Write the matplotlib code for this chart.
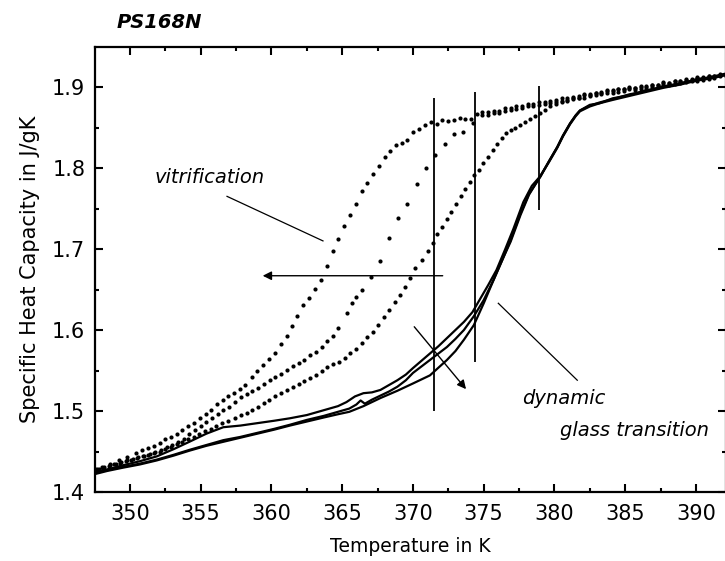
import matplotlib.pyplot as plt
from matplotlib.ticker import MultipleLocator

# cooling runs, plotted as dots (three cooling rates)
T_cool_a = [347.55, 348.0, 348.6, 349.2, 349.8, 350.4, 350.87, 351.3, 351.7, 352.12,
            352.5, 352.9, 353.3, 353.68, 354.08, 354.5, 354.95, 355.35, 355.75, 356.17,
            356.55, 356.93, 357.37, 357.76, 358.15, 358.6, 359.0, 359.42, 359.85, 360.25,
            360.65, 361.08, 361.47, 361.83, 362.23, 362.68, 363.1, 363.5, 363.9, 364.33,
            364.7, 365.15, 365.53, 365.95, 366.38, 366.77, 367.18, 367.58, 368.0, 368.38,
            368.8, 369.2, 369.6, 370.02, 370.45, 370.85, 371.25, 371.68, 372.07, 372.5,
            372.9, 373.33, 373.7, 374.12, 374.5, 374.9, 375.33,
            375.7, 376.1, 376.5, 376.9, 377.3, 377.7, 378.1, 378.5, 378.9, 379.3,
            379.7, 380.1, 380.5, 380.9, 381.3, 381.7, 382.1, 382.5, 382.9, 383.3,
            383.7, 384.1, 384.5, 384.9, 385.3, 385.7, 386.1, 386.5, 386.9, 387.3,
            387.7, 388.1, 388.5, 388.9, 389.3, 389.7, 390.1, 390.5, 390.9, 391.3,
            391.7, 392.1]
cp_cool_a = [1.428, 1.431, 1.435, 1.439, 1.443, 1.448, 1.452, 1.454, 1.457, 1.461,
             1.465, 1.468, 1.472, 1.476, 1.481, 1.485, 1.491, 1.496, 1.501, 1.509,
             1.514, 1.518, 1.522, 1.527, 1.532, 1.542, 1.549, 1.557, 1.564, 1.571,
             1.583, 1.592, 1.605, 1.617, 1.631, 1.640, 1.651, 1.662, 1.679, 1.698,
             1.712, 1.729, 1.742, 1.755, 1.772, 1.782, 1.793, 1.803, 1.813, 1.821,
             1.828, 1.831, 1.834, 1.844, 1.848, 1.853, 1.857, 1.854, 1.859, 1.858,
             1.859, 1.862, 1.861, 1.861, 1.867, 1.869, 1.869,
             1.871, 1.868, 1.874, 1.872, 1.877, 1.874, 1.879, 1.876, 1.881, 1.879,
             1.883, 1.881, 1.886, 1.884, 1.888, 1.886, 1.891, 1.889, 1.893, 1.891,
             1.896, 1.893, 1.897, 1.895, 1.899, 1.896, 1.900, 1.898, 1.902, 1.900,
             1.905, 1.902, 1.907, 1.905, 1.909, 1.907, 1.911, 1.909, 1.913, 1.911,
             1.915, 1.914]

T_cool_b = [347.8, 348.2, 348.6, 349.0, 349.4, 349.8, 350.2, 350.6, 351.0, 351.4,
            351.8, 352.2, 352.6, 353.0, 353.4, 353.8, 354.2, 354.6, 355.0, 355.4,
            355.8, 356.2, 356.6, 357.02, 357.42, 357.83, 358.25, 358.65, 359.05, 359.45,
            359.88, 360.27, 360.68, 361.08, 361.5, 361.93, 362.32, 362.72, 363.15, 363.55,
            363.95, 364.33, 364.72, 365.32, 365.67, 366.0, 366.38, 367.0, 367.67, 368.33,
            368.96, 369.6, 370.26, 370.92, 371.58, 372.24, 372.9, 373.56, 374.22, 374.88,
            375.3, 375.7, 376.1, 376.5, 376.9, 377.3, 377.7, 378.1, 378.5, 378.9,
            379.3, 379.7, 380.1, 380.5, 380.9, 381.3, 381.7, 382.1, 382.5, 382.9,
            383.3, 383.7, 384.1, 384.5, 384.9, 385.3, 385.7, 386.1, 386.5, 386.9,
            387.3, 387.7, 388.1, 388.5, 388.9, 389.3, 389.7, 390.1, 390.5, 390.9,
            391.3, 391.7, 392.1]
cp_cool_b = [1.429, 1.431, 1.433, 1.435, 1.437, 1.439, 1.441, 1.443, 1.445, 1.447,
             1.449, 1.452, 1.455, 1.458, 1.462, 1.466, 1.471, 1.476, 1.481, 1.486,
             1.491, 1.496, 1.501, 1.505, 1.511, 1.517, 1.521, 1.525, 1.529, 1.533,
             1.538, 1.542, 1.546, 1.551, 1.555, 1.559, 1.563, 1.569, 1.573, 1.579,
             1.586, 1.593, 1.602, 1.621, 1.633, 1.641, 1.649, 1.666, 1.685, 1.713,
             1.738, 1.756, 1.780, 1.800, 1.816, 1.830, 1.842, 1.845, 1.856, 1.865,
             1.866, 1.868, 1.871, 1.870, 1.874, 1.873, 1.877, 1.876, 1.879, 1.878,
             1.882, 1.880, 1.884, 1.883, 1.886, 1.885, 1.889, 1.887, 1.891, 1.890,
             1.894, 1.892, 1.896, 1.894, 1.898, 1.897, 1.899, 1.898, 1.901, 1.900,
             1.903, 1.902, 1.905, 1.904, 1.908, 1.906, 1.910, 1.908, 1.912, 1.910,
             1.914, 1.913, 1.916]

T_cool_c = [347.7, 348.1, 348.5, 348.9, 349.3, 349.7, 350.1, 350.5, 350.9, 351.3,
            351.7, 352.1, 352.5, 352.9, 353.3, 353.7, 354.1, 354.5, 354.9, 355.3,
            355.7, 356.1, 356.5, 356.9, 357.4, 357.83, 358.24, 358.65, 359.05, 359.45,
            359.86, 360.27, 360.68, 361.08, 361.5, 361.93, 362.32, 362.72, 363.15, 363.55,
            363.95, 364.33, 364.77, 365.2, 365.55, 365.97, 366.38, 366.77, 367.2, 367.55,
            367.95, 368.33, 368.73, 369.08, 369.44, 369.79, 370.15, 370.62, 371.08, 371.42,
            371.72, 372.07, 372.39, 372.71, 373.04, 373.37, 373.68, 374.03, 374.31, 374.65,
            374.97, 375.3, 375.64, 375.92, 376.27, 376.58, 376.91, 377.21, 377.57, 377.92,
            378.27, 378.63, 378.98, 379.33, 379.69,
            380.1, 380.5, 380.9, 381.3, 381.7, 382.1, 382.5, 382.9, 383.3, 383.7,
            384.1, 384.5, 384.9, 385.3, 385.7, 386.1, 386.5, 386.9, 387.3, 387.7,
            388.1, 388.5, 388.9, 389.3, 389.7, 390.1, 390.5, 390.9, 391.3, 391.7,
            392.1]
cp_cool_c = [1.428, 1.430, 1.432, 1.434, 1.436, 1.438, 1.440, 1.442, 1.444, 1.446,
             1.448, 1.450, 1.453, 1.456, 1.459, 1.462, 1.465, 1.468, 1.472, 1.475,
             1.478, 1.481, 1.485, 1.488, 1.491, 1.495, 1.498, 1.501, 1.505, 1.510,
             1.514, 1.518, 1.522, 1.526, 1.530, 1.533, 1.537, 1.541, 1.545, 1.549,
             1.554, 1.558, 1.561, 1.566, 1.571, 1.577, 1.584, 1.591, 1.598, 1.606,
             1.616, 1.625, 1.635, 1.643, 1.653, 1.664, 1.676, 1.686, 1.698, 1.708,
             1.718, 1.727, 1.737, 1.746, 1.755, 1.765, 1.774, 1.783, 1.791, 1.798,
             1.806, 1.813, 1.822, 1.830, 1.837, 1.843, 1.847, 1.850, 1.853, 1.857,
             1.861, 1.864, 1.868, 1.872, 1.876,
             1.879, 1.882, 1.883, 1.887, 1.887, 1.890, 1.890, 1.893, 1.893, 1.895,
             1.895, 1.898, 1.897, 1.900, 1.899, 1.901, 1.900, 1.903, 1.902, 1.906,
             1.905, 1.908, 1.907, 1.910, 1.909, 1.912, 1.911, 1.914, 1.913, 1.916,
             1.915]

# heating runs, plotted as solid lines
T_heat_1 = [347.5, 348.4, 349.5, 350.7, 351.9, 353.1, 354.2, 355.4, 356.6, 357.8,
            359.0, 360.2, 361.3, 362.5, 363.3, 364.1, 364.7, 365.3, 365.9, 366.5,
            367.1, 367.7, 368.3, 368.9, 369.5, 370.0, 370.6, 371.2, 371.8, 372.4,
            373.0, 373.6, 374.2, 374.7, 375.3, 375.9, 376.5, 377.1, 377.8, 378.4,
            379.0, 379.6, 380.2, 380.6, 381.1, 381.5, 381.8, 382.5, 383.2, 384.1,
            385.3, 386.5, 387.7, 388.9, 390.1, 391.2, 392.2]
cp_heat_1 = [1.425, 1.428, 1.433, 1.438, 1.444, 1.453, 1.462, 1.472, 1.480, 1.482,
             1.485, 1.488, 1.491, 1.495, 1.499, 1.503, 1.506, 1.511, 1.518, 1.522,
             1.523, 1.526, 1.532, 1.538, 1.545, 1.553, 1.562, 1.571, 1.580, 1.590,
             1.600, 1.610, 1.622, 1.637, 1.655, 1.674, 1.699, 1.725, 1.758, 1.778,
             1.790, 1.808, 1.826, 1.840, 1.855, 1.865, 1.871, 1.878, 1.880, 1.886,
             1.890, 1.896, 1.900, 1.905, 1.909, 1.913, 1.917]

T_heat_2 = [347.5, 348.4, 349.5, 350.7, 351.9, 353.1, 354.2, 355.4, 356.6, 357.8,
            359.0, 360.2, 361.3, 362.5, 363.7, 364.7, 365.5, 366.0, 366.3, 366.6,
            367.1, 367.7, 368.3, 368.9, 369.5, 370.0, 370.6, 371.2, 371.8, 372.4,
            373.0, 373.6, 374.3, 375.0, 375.7, 376.4, 376.9, 377.6, 378.2, 379.0,
            379.6, 380.2, 380.6, 381.1, 381.5, 381.8, 382.5, 383.2, 384.1, 385.3,
            386.5, 387.7, 388.9, 390.1, 391.2, 392.2]
cp_heat_2 = [1.423, 1.427, 1.431, 1.435, 1.440, 1.446, 1.452, 1.458, 1.464, 1.468,
             1.473, 1.478, 1.483, 1.489, 1.494, 1.499, 1.503, 1.508, 1.513, 1.509,
             1.514, 1.519, 1.524, 1.530, 1.538, 1.547, 1.555, 1.563, 1.571, 1.579,
             1.589, 1.600, 1.617, 1.637, 1.662, 1.690, 1.711, 1.744, 1.768, 1.789,
             1.808, 1.826, 1.840, 1.855, 1.865, 1.871, 1.877, 1.881, 1.885, 1.891,
             1.895, 1.901, 1.904, 1.910, 1.912, 1.916]

T_heat_3 = [347.5, 348.4, 349.5, 350.7, 351.9, 353.1, 354.2, 355.4, 356.6, 357.8,
            359.0, 360.2, 361.3, 362.5, 363.7, 364.7, 365.5, 366.5, 367.7, 368.9,
            370.0, 371.2, 372.4, 373.0, 373.6, 374.3, 375.0, 375.7, 376.4, 376.9,
            377.6, 378.2, 379.0, 379.6, 380.2, 380.6, 381.1, 381.5, 381.8, 382.5,
            383.2, 384.1, 385.3, 386.5, 387.7, 388.9, 390.1, 391.2, 392.2]
cp_heat_3 = [1.422, 1.426, 1.430, 1.434, 1.439, 1.445, 1.451, 1.457, 1.462, 1.467,
             1.472, 1.477, 1.482, 1.487, 1.492, 1.496, 1.499, 1.506, 1.516, 1.525,
             1.534, 1.544, 1.563, 1.574, 1.588, 1.606, 1.633, 1.662, 1.690, 1.709,
             1.742, 1.767, 1.790, 1.807, 1.825, 1.839, 1.854, 1.864, 1.870, 1.876,
             1.880, 1.884, 1.889, 1.894, 1.899, 1.903, 1.908, 1.911, 1.915]

# glass transition markers
tg_pos = [371.5, 374.35, 378.93]
tg_lo = [1.500, 1.561, 1.748]
tg_hi = [1.886, 1.894, 1.901]

fig = plt.figure(figsize=(7.25, 5.61), dpi=100)
ax = fig.add_axes([95 / 725, 69 / 561, 631 / 725, 445 / 561])

for T, cp in [(T_cool_a, cp_cool_a), (T_cool_b, cp_cool_b), (T_cool_c, cp_cool_c)]:
    ax.plot(T, cp, 'o', ms=3.0, color='black', mec='none')
for T, cp in [(T_heat_1, cp_heat_1), (T_heat_2, cp_heat_2), (T_heat_3, cp_heat_3)]:
    ax.plot(T, cp, '-', lw=1.6, color='black')

ax.vlines(tg_pos, tg_lo, tg_hi, colors='black', lw=1.3)

# arrows: shift of vitrification and of the dynamic glass transition
ax.annotate('', xy=(359.38, 1.667), xytext=(372.1, 1.667),
            arrowprops=dict(arrowstyle='-|>', color='black', lw=1.0,
                            mutation_scale=13, shrinkA=0, shrinkB=0))
ax.annotate('', xy=(373.75, 1.527), xytext=(370.09, 1.604),
            arrowprops=dict(arrowstyle='-|>', color='black', lw=1.0,
                            mutation_scale=13, shrinkA=0, shrinkB=0))
ax.plot([356.86, 363.64], [1.765, 1.710], color='black', lw=0.9)
ax.plot([376.03, 381.61], [1.633, 1.538], color='black', lw=0.9)

ax.text(355.6, 1.788, 'vitrification', style='italic', fontsize=14,
        ha='center', va='center')
ax.text(380.69, 1.515, 'dynamic', style='italic', fontsize=14,
        ha='center', va='center')
ax.text(385.63, 1.4765, 'glass transition', style='italic', fontsize=14,
        ha='center', va='center')

ax.set_xlim(347.53, 392.12)
ax.set_ylim(1.4, 1.9494)
ax.xaxis.set_major_locator(MultipleLocator(5))
ax.xaxis.set_minor_locator(MultipleLocator(2.5))
ax.yaxis.set_major_locator(MultipleLocator(0.1))
ax.yaxis.set_minor_locator(MultipleLocator(0.05))
ax.tick_params(which='both', direction='in', top=True, right=True, width=1.5)
ax.tick_params(which='major', length=6, labelsize=15)
ax.tick_params(axis='x', which='major', pad=9)
ax.tick_params(axis='y', which='major', pad=7)
ax.tick_params(which='minor', length=3)
for s in ax.spines.values():
    s.set_linewidth(1.6)

ax.set_xlabel('Temperature in K', fontsize=13.5, labelpad=9)
ax.set_ylabel('Specific Heat Capacity in J/gK', fontsize=15, labelpad=9)

fig.text(117 / 725, 1 - 23 / 561, 'PS168N', fontsize=14, fontweight='bold',
         style='italic', ha='left', va='center')

fig.savefig('out.png', dpi=100)
